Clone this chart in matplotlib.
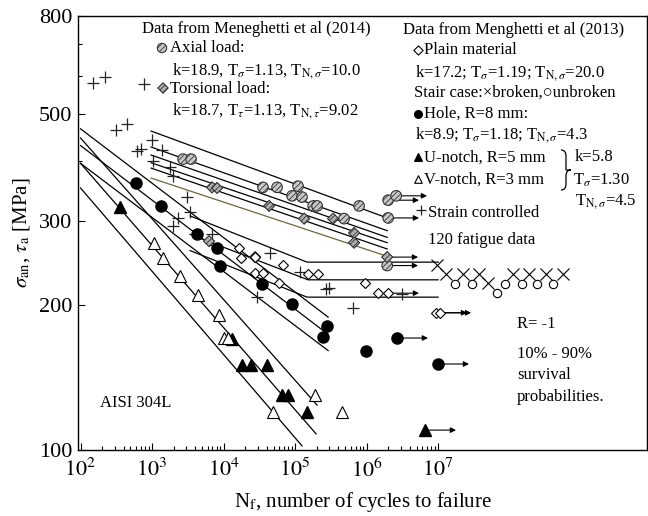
import matplotlib
matplotlib.use('Agg')
import matplotlib.pyplot as plt
from matplotlib.ticker import FixedLocator, FixedFormatter, NullFormatter
from matplotlib.path import Path
from matplotlib.patches import PathPatch

plt.rcParams['font.family'] = ['Liberation Serif', 'DejaVu Serif']
plt.rcParams['mathtext.fontset'] = 'stix'
plt.rcParams['hatch.linewidth'] = 0.6

# ---- data (N = cycles, S = stress amplitude in MPa) ----
strain_N = [150, 220, 773, 314, 447, 1000, 617, 701, 1380, 1030, 1790, 1970, 3090,
            3400, 2310, 1970, 6900, 44700, 117000, 29400, 272000, 299000, 647000, 3.14e6]
strain_S = [581, 597, 577, 463, 477, 442, 419, 423, 421, 399, 388, 372, 336,
            313, 304, 293, 281, 257, 235, 208, 216, 217, 197, 211]

axial_N = [2720, 3510, 35600, 56000, 110000, 90800, 125000, 179000, 203000, 484000, 785000]
axial_S = [403, 403, 352, 352, 354, 338, 336, 322, 322, 303, 322]
axial_run_N = [2.0e6, 2.59e6, 2.0e6, 1.94e6]
axial_run_S = [331, 338, 304, 242]

tors_N = [6900, 8110, 43300, 134000, 340000, 668000, 668000, 6270, 27600]
tors_S = [352, 351, 322, 303, 303, 283, 270, 272, 252]
tors_run_N = [1.94e6]
tors_run_S = [252]

plain_N = [16500, 17600, 27600, 27600, 35600, 67900, 59700, 152000, 210000, 953000, 1.45e6]
plain_S = [263, 251, 252, 233, 233, 243, 223, 232, 232, 223, 212]
plain_run_N = [2.0e6, 9.4e6, 1.07e7]
plain_run_S = [212, 193, 193]

hole_N = [597, 1340, 4260, 8110, 8930, 34500, 90800, 281000, 247000, 984000]
hole_S = [359, 322, 281, 263, 242, 221, 201, 181, 172, 161]
hole_run_N = [2.67e6, 1.0e7]
hole_run_S = [171, 151]

unotch_N = [357, 13200, 18200, 24300, 40600, 65800, 79800, 147000]
unotch_S = [320, 170, 150, 150, 150, 130, 130, 120]
unotch_run_N = [6.58e6]
unotch_run_S = [110]

vnotch_N = [1070, 1430, 2470, 4400, 8650, 10200, 11600, 49200, 191000, 454000]
vnotch_S = [270, 251, 230, 210, 191, 171, 171, 120, 130, 120]

stair_x_N = [9.68e6, 1.29e7, 2.24e7, 3.74e7, 5.0e7, 1.12e8, 1.87e8, 3.24e8, 5.6e8]
stair_x_S = [243, 232, 232, 232, 223, 232, 232, 232, 232]
stair_o_N = [1.73e7, 2.99e7, 6.68e7, 8.65e7, 1.5e8, 2.43e8, 4.06e8]
stair_o_S = [221, 221, 212, 221, 221, 221, 221]

# scatter bands (10% / 50% / 90%), vertices of each line
notch_lines_N = [[100, 1.25e5], [100, 1.97e5], [100, 2.03e5]]
notch_lines_S = [[351, 102], [395, 108], [446, 124]]
hole_lines_N = [[100, 2.9e5], [100, 2.9e5], [100, 2.9e5]]
hole_lines_S = [[466, 189], [430, 174], [395, 161]]
plain_lines_N = [[3400, 1.47e5, 1e7], [3400, 1.52e5, 1e7], [3400, 1.47e5, 1e7]]
plain_lines_S = [[307, 246, 246], [281, 226, 226], [260, 208, 208]]
axial_lines_N = [[970, 1.94e6], [970, 1.94e6], [970, 1.94e6]]
axial_lines_S = [[461, 304], [427, 286], [396, 270]]
tors_lines_N = [[970, 1.94e6], [970, 1.94e6], [970, 1.94e6]]
tors_lines_S = [[411, 277], [386, 262], [368, 253]]

W, H = 648, 516
fig = plt.figure(figsize=(W / 100, H / 100), dpi=100)
ax = fig.add_axes([78 / W, 1 - 450 / H, 569 / W, 434 / H])
ax.set_xscale('log')
ax.set_yscale('log')
ax.set_xlim(10 ** 1.965, 10 ** 9.92)
ax.set_ylim(100, 800)

for Ns, Ss in zip(notch_lines_N + hole_lines_N + plain_lines_N + axial_lines_N + tors_lines_N[:2],
                  notch_lines_S + hole_lines_S + plain_lines_S + axial_lines_S + tors_lines_S[:2]):
    ax.plot(Ns, Ss, color='black', lw=0.9, zorder=2)
ax.plot(tors_lines_N[2], tors_lines_S[2], color='#6b6638', lw=0.9, zorder=2)


def runouts(N, S):
    for n, s in zip(N, S):
        ax.annotate('', xy=(n * 2.7, s), xytext=(n, s),
                    arrowprops=dict(arrowstyle='-|>', lw=0.8, color='black',
                                    mutation_scale=8, shrinkA=0, shrinkB=0), zorder=3)


for N, S in [(axial_run_N, axial_run_S), (tors_run_N, tors_run_S), (plain_run_N, plain_run_S),
             (hole_run_N, hole_run_S), (unotch_run_N, unotch_run_S)]:
    runouts(N, S)

ax.plot(strain_N, strain_S, ls='none', marker='+', ms=9, mew=0.9, color='#222222', zorder=4)
ax.scatter(axial_N + axial_run_N, axial_S + axial_run_S, s=58, marker='o', facecolor='#c8c8c8',
           edgecolor='#333333', hatch='//////', linewidths=0.8, zorder=5)
ax.scatter(tors_N + tors_run_N, tors_S + tors_run_S, s=32, marker='D', facecolor='#b0b0b0',
           edgecolor='#333333', hatch='//////', linewidths=0.8, zorder=5)
ax.plot(plain_N + plain_run_N, plain_S + plain_run_S, ls='none', marker='D', ms=5.6,
        mfc='white', mec='black', mew=0.8, zorder=5)
ax.plot(hole_N + hole_run_N, hole_S + hole_run_S, ls='none', marker='o', ms=8,
        color='black', zorder=5)
ax.plot(unotch_N + unotch_run_N, unotch_S + unotch_run_S, ls='none', marker='^', ms=8.5,
        color='black', zorder=5)
ax.plot(vnotch_N, vnotch_S, ls='none', marker='^', ms=8.5, mfc='white', mec='black',
        mew=0.8, zorder=5)
ax.plot(stair_x_N, stair_x_S, ls='none', marker='x', ms=8, mew=0.8, color='black', zorder=5)
ax.plot(stair_o_N, stair_o_S, ls='none', marker='o', ms=6, mfc='white', mec='black',
        mew=0.8, zorder=5)

# ticks
ax.xaxis.set_major_locator(FixedLocator([1e2, 1e3, 1e4, 1e5, 1e6, 1e7]))
ax.xaxis.set_major_formatter(FixedFormatter([r'$10^{%d}$' % e for e in range(2, 8)]))
ax.xaxis.set_minor_locator(FixedLocator([m * 10 ** e for e in range(2, 7) for m in range(2, 10)]))
ax.xaxis.set_minor_formatter(NullFormatter())
ax.yaxis.set_major_locator(FixedLocator([100, 200, 300, 500, 800]))
ax.yaxis.set_major_formatter(FixedFormatter(['100', '200', '300', '500', '800']))
ax.yaxis.set_minor_locator(FixedLocator([400, 600, 700]))
ax.yaxis.set_minor_formatter(NullFormatter())
ax.tick_params(which='both', direction='in', top=False, right=False, labelsize=16)
ax.tick_params(which='major', length=5, width=0.8)
ax.tick_params(which='minor', length=3, width=0.8)
ax.tick_params(axis='x', pad=6)
ax.tick_params(axis='y', pad=4)
for sp in ax.spines.values():
    sp.set_linewidth(1.0)

ax.set_xlabel(r'N$_\mathrm{f}$, number of cycles to failure', fontsize=15, labelpad=6)
ax.set_ylabel(r'$\sigma_\mathrm{an}$, $\tau_\mathrm{a}$ [MPa]', fontsize=15, labelpad=5)


def ft(px, py, s, **kw):
    kw.setdefault('fontsize', 12)
    fig.text(px / W, 1 - py / H, s, va='center', ha='left', **kw)


def sym(px, py, **kw):
    ax.scatter([px / W], [1 - py / H], transform=fig.transFigure, clip_on=False, zorder=6, **kw)


def fp(px, py):
    return (px / W, 1 - py / H)


ft(142, 29, 'Data from Meneghetti et al (2014)')
sym(162, 48, s=45, marker='o', facecolor='#c8c8c8', edgecolor='#333333', hatch='//////', linewidths=0.8)
ft(170, 48, 'Axial load:')
ft(172, 71, r'k=18.9, T$_\sigma$=1.13, T$_{\mathrm{N},\sigma}$=10.0')
sym(163, 88, s=28, marker='D', facecolor='#b0b0b0', edgecolor='#333333', hatch='//////', linewidths=0.8)
ft(170, 89, 'Torsional load:')
ft(172, 111, r'k=18.7, T$_\tau$=1.13, T$_{\mathrm{N},\tau}$=9.02')

ft(403, 30, 'Data from Menghetti et al (2013)')
sym(418, 50, s=22, marker='D', facecolor='white', edgecolor='black', linewidths=0.8)
ft(424, 50, 'Plain material')
ft(415, 73, r'k=17.2; T$_\sigma$=1.19; T$_{\mathrm{N},\sigma}$=20.0')
ft(414, 93, 'Stair case:\u00d7broken,\u25cbunbroken')
sym(418, 114, s=30, marker='o', color='black')
ft(424, 114, 'Hole, R=8 mm:')
ft(415, 135, r'k=8.9; T$_\sigma$=1.18; T$_{\mathrm{N},\sigma}$=4.3')
sym(418, 157, s=30, marker='^', color='black')
ft(424, 158, 'U-notch, R=5 mm')
sym(418, 179, s=30, marker='^', facecolor='white', edgecolor='black', linewidths=0.8)
ft(424, 180, 'V-notch, R=3 mm')

# curly brace joining the two notch entries
brace = Path([fp(561, 150), fp(566, 150), fp(566, 156), fp(566, 164), fp(566, 170),
              fp(566, 170), fp(571, 170), fp(566, 170), fp(566, 176),
              fp(566, 184), fp(566, 190), fp(561, 190)],
             [Path.MOVETO, Path.CURVE3, Path.CURVE3, Path.LINETO, Path.CURVE3, Path.CURVE3,
              Path.LINETO, Path.CURVE3, Path.CURVE3, Path.LINETO, Path.CURVE3, Path.CURVE3])
fig.add_artist(PathPatch(brace, transform=fig.transFigure, fill=False, lw=0.9, color='black'))

ft(575, 157, 'k=5.8')
ft(573, 180, r'T$_\sigma$=1.30')
ft(575, 202, r'T$_{\mathrm{N},\sigma}$=4.5')
sym(421, 210, s=60, marker='+', color='#222222', linewidths=0.9)
ft(428, 213, 'Strain controlled')
ft(428, 240, '120 fatigue data')

ft(517, 324, 'R= -1')
ft(517, 354, '10% - 90%')
ft(517, 375, 'survival')
ft(517, 397, 'probabilities.')
ft(100, 403, 'AISI 304L')

fig.savefig('out.png', dpi=100)
